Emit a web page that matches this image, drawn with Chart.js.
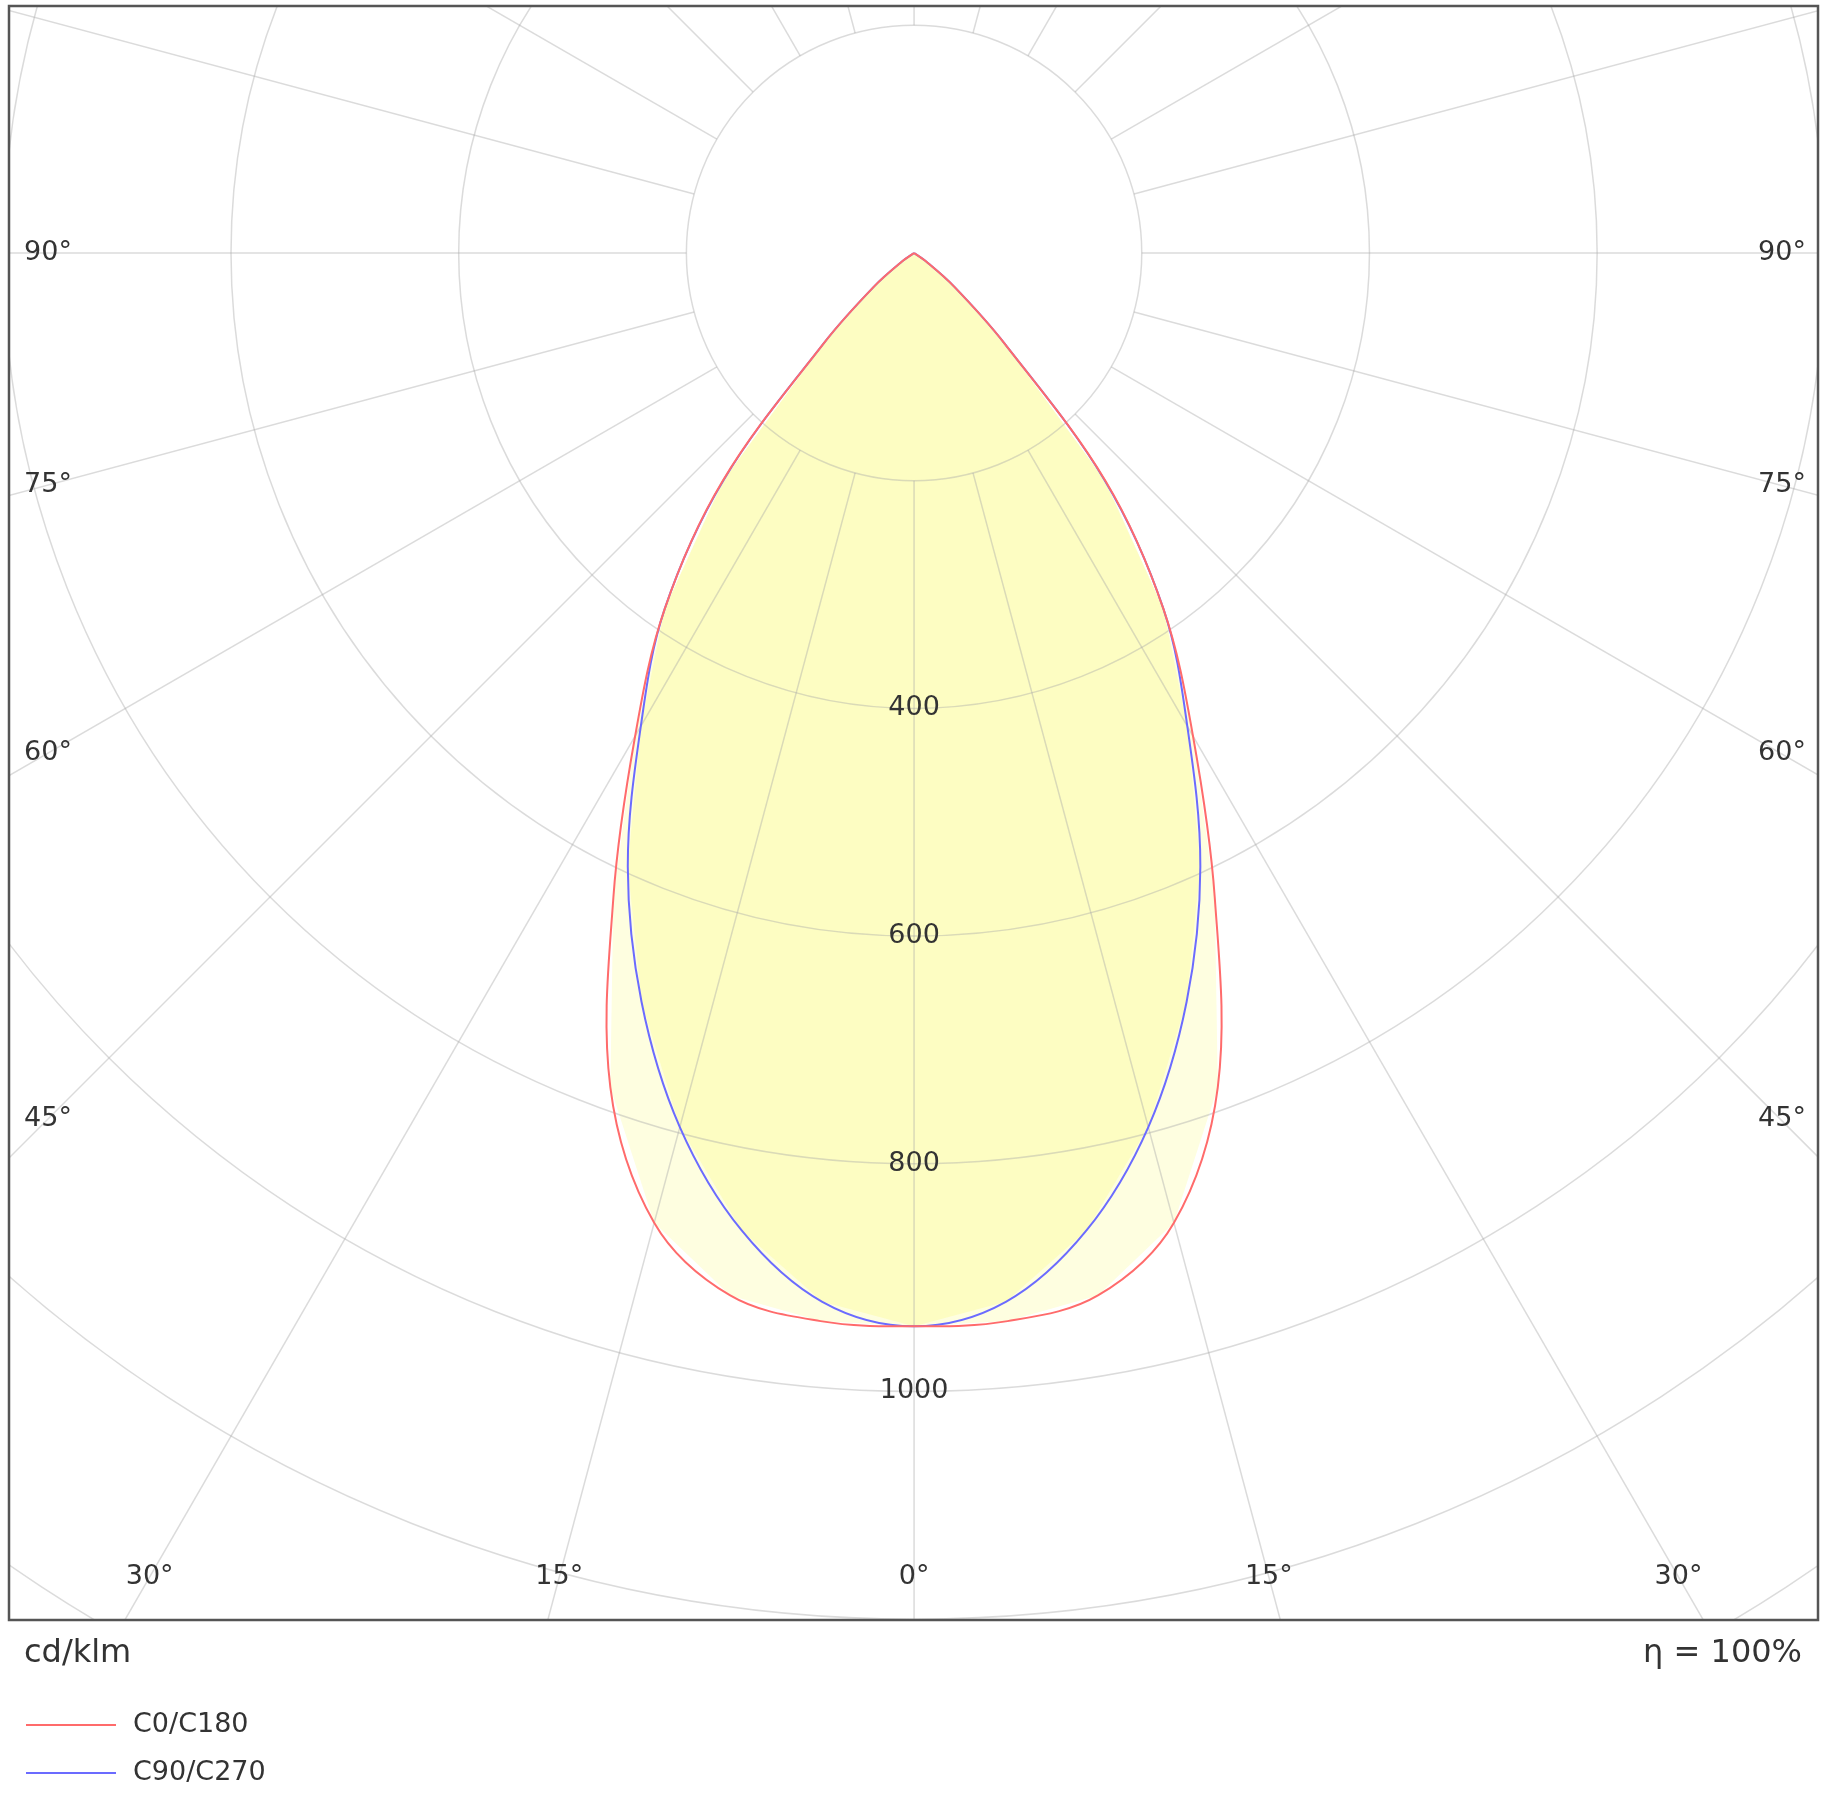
<!DOCTYPE html>
<html>
<head>
<meta charset="utf-8">
<script src="https://cdn.jsdelivr.net/npm/chart.js@4.4.0/dist/chart.umd.min.js"></script>
<style>
  html, body { margin: 0; padding: 0; background: #fff; }
  #wrap { width: 1821px; height: 1801px; }
</style>
</head>
<body>
<div id="wrap"><canvas id="polar"></canvas></div>
<script>
// gamma angles (deg) and intensities (cd/klm)
const angles = [0, 5, 10, 15, 20, 25, 30, 35, 40, 45, 50, 55, 60, 65, 70, 75, 80, 85, 90];
const c0c180 = [943, 942, 930, 882, 780, 625, 490, 382, 262, 112, 46, 12, 0, 0, 0, 0, 0, 0, 0];
const c90c270 = [943, 925, 872, 795, 700, 595, 480, 382, 260, 112, 46, 12, 0, 0, 0, 0, 0, 0, 0];
const ringValues = [200, 400, 600, 800, 1000, 1200, 1400, 1600];
const ringLabels = ['400', '600', '800', '1000'];
const sideLabels = [45, 60, 75, 90];
const bottomLabels = [0, 15, 30];

const FONT = '"DejaVu Sans", sans-serif';

// polar curve -> cartesian points, full symmetric C-plane (left half mirrored)
function toPoints(vals) {
    const pts = [];
    for (let i = angles.length - 1; i > 0; i--) {
        const a = -angles[i] * Math.PI / 180;
        pts.push({ x: vals[i] * Math.sin(a), y: -vals[i] * Math.cos(a) });
    }
    angles.forEach((deg, i) => {
        const a = deg * Math.PI / 180;
        pts.push({ x: vals[i] * Math.sin(a), y: -vals[i] * Math.cos(a) });
    });
    return pts;
}

// fills, then grid rings + spokes on top, all from the scales
const polarGrid = {
    id: 'polarGrid',
    beforeDatasetsDraw(chart) {
        const { ctx, chartArea: ca, scales: { x, y } } = chart;
        const cx = x.getPixelForValue(0), cy = y.getPixelForValue(0);
        const k = x.getPixelForValue(1) - cx;
        ctx.save();
        ctx.beginPath();
        ctx.rect(ca.left, ca.top, ca.right - ca.left, ca.bottom - ca.top);
        ctx.clip();
        [0, 1].forEach(i => {
            const pts = chart.getDatasetMeta(i).data;
            ctx.beginPath();
            pts.forEach((p, j) => j ? ctx.lineTo(p.x, p.y) : ctx.moveTo(p.x, p.y));
            ctx.closePath();
            ctx.fillStyle = i === 0 ? '#fefee0' : '#fdfdc2';
            ctx.fill();
        });
        ctx.strokeStyle = 'rgba(170,170,170,0.42)';
        ctx.lineWidth = 1.5;
        ringValues.forEach(v => {
            ctx.beginPath();
            ctx.arc(cx, cy, v * k, 0, Math.PI * 2);
            ctx.stroke();
        });
        for (let d = 0; d < 360; d += 15) {
            const a = d * Math.PI / 180;
            const r0 = 200 * k, r1 = 3000 * k;
            ctx.beginPath();
            ctx.moveTo(cx + r0 * Math.sin(a), cy + r0 * Math.cos(a));
            ctx.lineTo(cx + r1 * Math.sin(a), cy + r1 * Math.cos(a));
            ctx.stroke();
        }
        ctx.restore();
    },
    afterDatasetsDraw(chart) {
        const { ctx, chartArea: ca, scales: { x, y } } = chart;
        const cx = x.getPixelForValue(0), cy = y.getPixelForValue(0);
        const k = x.getPixelForValue(1) - cx;
        ctx.save();
        ctx.font = '27px ' + FONT;
        ctx.textAlign = 'center';
        ctx.textBaseline = 'middle';
        ctx.fillStyle = '#333';
        ringLabels.forEach(t => {
            ctx.fillText(t, cx, cy + Number(t) * k);
        });
        // angle labels where spokes meet an inset frame
        const insetX = 39, insetBottom = 43;
        sideLabels.forEach(d => {
            const dx = cx - (ca.left + insetX);
            const py = cy + dx / Math.tan(d * Math.PI / 180);
            ctx.fillText(d + '°', ca.left + insetX, py);
            ctx.fillText(d + '°', ca.right - insetX + 3, py);
        });
        bottomLabels.forEach(d => {
            const dy = (ca.bottom - insetBottom) - cy;
            const dx = dy * Math.tan(d * Math.PI / 180);
            ctx.fillText(d + '°', cx - dx, ca.bottom - insetBottom);
            if (d) ctx.fillText(d + '°', cx + dx, ca.bottom - insetBottom);
        });
        // frame
        ctx.strokeStyle = '#555';
        ctx.lineWidth = 2.5;
        ctx.strokeRect(ca.left, ca.top, ca.right - ca.left, ca.bottom - ca.top);
        // footer
        ctx.font = '32px ' + FONT;
        ctx.textAlign = 'left';
        ctx.fillText('cd/klm', 24, 1654);
        ctx.textAlign = 'right';
        ctx.fillText('η = 100%', 1802, 1654);
        ctx.font = '27px ' + FONT;
        ctx.textAlign = 'left';
        chart.data.datasets.forEach((ds, i) => {
            const ly = 1725 + i * 48;
            ctx.strokeStyle = ds.borderColor;
            ctx.lineWidth = 2;
            ctx.beginPath();
            ctx.moveTo(26, ly);
            ctx.lineTo(116, ly);
            ctx.stroke();
            ctx.fillStyle = '#333';
            ctx.fillText(ds.label, 133, ly);
        });
        ctx.restore();
    }
};

new Chart(document.getElementById('polar'), {
    type: 'scatter',
    data: {
        datasets: [
            { label: 'C0/C180', data: toPoints(c0c180), showLine: true, borderColor: '#ff6b6b', borderWidth: 2, pointRadius: 0, tension: 0.35 },
            { label: 'C90/C270', data: toPoints(c90c270), showLine: true, borderColor: '#6b6bff', borderWidth: 2, pointRadius: 0, tension: 0.35 }
        ]
    },
    options: {
        responsive: true,
        maintainAspectRatio: false,
        animation: false,
        layout: { padding: { left: 9, top: 6, right: 3, bottom: 181 } },
        scales: {
            x: { type: 'linear', min: -795, max: 794, display: false },
            y: { type: 'linear', min: -1201, max: 217, display: false }
        },
        plugins: { legend: { display: false }, tooltip: { enabled: false } }
    },
    plugins: [polarGrid]
});
</script>
</body>
</html>
